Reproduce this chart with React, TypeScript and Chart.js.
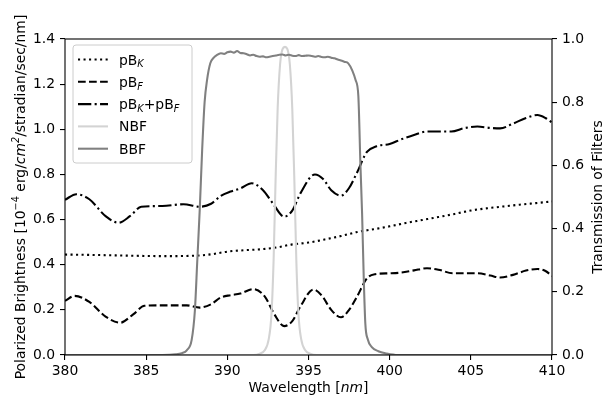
import React, { useEffect, useRef } from "react";
import { Chart, registerables } from "chart.js";
Chart.register(...registerables);

const W = 608;
const H = 404;
const FONT = '"DejaVu Sans", "Liberation Sans", sans-serif';
const FS = 13.9;

// ---------- data ----------
const xTickValues = [380, 385, 390, 395, 400, 405, 410];
const yLeftTickValues = [0, 0.2, 0.4, 0.6, 0.8, 1.0, 1.2, 1.4];
const yRightTickValues = [0, 0.2, 0.4, 0.6, 0.8, 1.0];

const pbkWave = [380, 382, 384, 386, 388, 389, 390, 391, 392, 393, 394, 395, 396, 397, 398, 399, 400, 401, 402, 403, 404, 405, 406, 407, 408, 409, 410];
const pbkVal = [0.445, 0.443, 0.44, 0.438, 0.44, 0.446, 0.458, 0.464, 0.468, 0.476, 0.49, 0.498, 0.512, 0.527, 0.545, 0.557, 0.57, 0.585, 0.598, 0.611, 0.625, 0.64, 0.65, 0.658, 0.666, 0.673, 0.68];

const pbfWave = [380, 380.6, 381.5, 382.5, 383.4, 384.2, 384.9, 386, 387.5, 388.3, 389, 389.6, 390.2, 390.8, 391.6, 392.3, 392.9, 393.5, 394, 394.5, 395.3, 395.8, 396.4, 397, 397.5, 398, 398.6, 399.1, 400, 400.7, 401.5, 402.3, 403, 403.9, 405.4, 406.2, 406.8, 407.6, 408.4, 409.1, 409.6, 410];
const pbfVal = [0.24, 0.262, 0.235, 0.17, 0.143, 0.18, 0.218, 0.22, 0.22, 0.21, 0.225, 0.255, 0.265, 0.272, 0.292, 0.26, 0.18, 0.128, 0.15, 0.215, 0.29, 0.265, 0.2, 0.167, 0.2, 0.26, 0.34, 0.358, 0.362, 0.365, 0.375, 0.384, 0.378, 0.362, 0.362, 0.352, 0.343, 0.355, 0.374, 0.381, 0.372, 0.35];

const sumWave = [380, 380.7, 381.5, 382.5, 383.3, 384, 384.7, 386, 387.3, 388.3, 389, 389.6, 390.2, 390.8, 391.5, 392.2, 392.8, 393.5, 394, 394.5, 395.4, 395.9, 396.4, 397, 397.5, 398, 398.6, 399.2, 400, 400.7, 401.5, 402.3, 403, 403.8, 404.6, 405.4, 406.2, 406.8, 407.6, 408.4, 409.1, 409.6, 410];
const sumVal = [0.688, 0.712, 0.69, 0.615, 0.586, 0.615, 0.657, 0.66, 0.668, 0.657, 0.67, 0.705, 0.724, 0.738, 0.761, 0.73, 0.672, 0.613, 0.64, 0.716, 0.8, 0.78, 0.73, 0.706, 0.74, 0.81, 0.9, 0.925, 0.935, 0.955, 0.975, 0.99, 0.99, 0.99, 1.005, 1.012, 1.006, 1.004, 1.025, 1.05, 1.063, 1.05, 1.03];

const nbfWave = [380, 391.6, 392.0, 392.3, 392.55, 392.72, 392.85, 392.97, 393.1, 393.25, 393.4, 393.55, 393.7, 393.85, 394.0, 394.13, 394.25, 394.38, 394.55, 394.8, 395.1, 395.5, 410];
const nbfVal = [0, 0, 0.004, 0.015, 0.05, 0.13, 0.3, 0.55, 0.78, 0.92, 0.968, 0.975, 0.968, 0.92, 0.78, 0.55, 0.3, 0.13, 0.05, 0.015, 0.004, 0, 0];

const bbfWave = [380, 386.0, 386.8, 387.2, 387.5, 387.8, 388.0, 388.15, 388.3, 388.45, 388.6, 388.75, 388.95, 389.15, 389.35, 389.6, 389.8, 390.0, 390.2, 390.4, 390.6, 390.8, 391.0, 391.2, 391.4, 391.6, 391.8, 392.0, 392.2, 392.4, 392.6, 392.8, 393.0, 393.2, 393.4, 393.6, 393.8, 394.0, 394.2, 394.4, 394.6, 394.8, 395.0, 395.2, 395.4, 395.6, 395.8, 396.0, 396.2, 396.4, 396.6, 396.8, 397.0, 397.2, 397.45, 397.7, 397.9, 398.07, 398.2, 398.3, 398.4, 398.5, 398.65, 398.9, 399.3, 399.8, 400.5, 410];
const bbfVal = [0, 0, 0.002, 0.006, 0.015, 0.047, 0.14, 0.3, 0.46, 0.65, 0.8, 0.87, 0.923, 0.94, 0.949, 0.955, 0.953, 0.958, 0.96, 0.957, 0.962, 0.956, 0.955, 0.952, 0.948, 0.95, 0.946, 0.944, 0.945, 0.942, 0.944, 0.946, 0.948, 0.95, 0.951, 0.948, 0.95, 0.947, 0.946, 0.949, 0.946, 0.947, 0.948, 0.946, 0.944, 0.946, 0.943, 0.942, 0.944, 0.941, 0.939, 0.935, 0.932, 0.928, 0.923, 0.9, 0.87, 0.82, 0.6, 0.45, 0.25, 0.1, 0.05, 0.025, 0.012, 0.005, 0, 0];

// ---------- styles ----------
const LW = 2.08;
const DOTTED = [2.08, 3.44];
const DASHED = [7.7, 3.33];
const DASHDOT = [13.3, 3.33, 2.08, 3.33];
const NBF_COLOR = "#d3d3d3";
const BBF_COLOR = "#808080";

const pts = (xs: number[], ys: number[]) => xs.map((x, i) => ({ x, y: ys[i] }));

type Seg = { t: string; s?: number; it?: boolean; dy?: number };
const fontOf = (g: Seg, base: number) => `${g.it ? "italic " : ""}${base * (g.s ?? 1)}px ${FONT}`;
function richWidth(ctx: CanvasRenderingContext2D, segs: Seg[], base: number) {
  let w = 0;
  for (const g of segs) {
    ctx.font = fontOf(g, base);
    w += ctx.measureText(g.t).width;
  }
  return w;
}
function drawRich(ctx: CanvasRenderingContext2D, segs: Seg[], x: number, y: number, base: number, center: boolean) {
  let cx = center ? x - richWidth(ctx, segs, base) / 2 : x;
  ctx.textAlign = "left";
  ctx.textBaseline = "alphabetic";
  for (const g of segs) {
    ctx.font = fontOf(g, base);
    ctx.fillText(g.t, cx, y + (g.dy ?? 0));
    cx += ctx.measureText(g.t).width;
  }
}
const sub = (t: string): Seg => ({ t, s: 0.7, it: true, dy: 2.8 });
const sup = (t: string, it = false): Seg => ({ t, s: 0.7, it, dy: -6 });

const legendItems = [
  { segs: [{ t: "pB" }, sub("K")], dash: DOTTED, color: "#000" },
  { segs: [{ t: "pB" }, sub("F")], dash: DASHED, color: "#000" },
  { segs: [{ t: "pB" }, sub("K"), { t: "+pB" }, sub("F")], dash: DASHDOT, color: "#000" },
  { segs: [{ t: "NBF" }], dash: [] as number[], color: NBF_COLOR },
  { segs: [{ t: "BBF" }], dash: [] as number[], color: BBF_COLOR },
];

const decor = {
  id: "decor",
  afterDatasetsDraw(chart: any) {
    const ctx: CanvasRenderingContext2D = chart.ctx;
    const a = chart.chartArea;
    ctx.save();
    // frame
    ctx.setLineDash([]);
    ctx.strokeStyle = "#000";
    ctx.lineWidth = 1.1;
    ctx.strokeRect(a.left, a.top, a.right - a.left, a.bottom - a.top);

    // legend box
    const bx = 73, by = 45, bw = 119, bh = 118, r = 3;
    ctx.beginPath();
    ctx.moveTo(bx + r, by);
    ctx.lineTo(bx + bw - r, by);
    ctx.arcTo(bx + bw, by, bx + bw, by + r, r);
    ctx.lineTo(bx + bw, by + bh - r);
    ctx.arcTo(bx + bw, by + bh, bx + bw - r, by + bh, r);
    ctx.lineTo(bx + r, by + bh);
    ctx.arcTo(bx, by + bh, bx, by + bh - r, r);
    ctx.lineTo(bx, by + r);
    ctx.arcTo(bx, by, bx + r, by, r);
    ctx.closePath();
    ctx.fillStyle = "rgba(255,255,255,0.8)";
    ctx.fill();
    ctx.strokeStyle = "#cccccc";
    ctx.lineWidth = 1;
    ctx.stroke();

    legendItems.forEach((it, i) => {
      const yy = 59.5 + i * 22.3;
      ctx.beginPath();
      ctx.setLineDash(it.dash);
      ctx.lineDashOffset = 0;
      ctx.strokeStyle = it.color;
      ctx.lineWidth = LW;
      ctx.lineCap = "butt";
      ctx.moveTo(78, yy);
      ctx.lineTo(108, yy);
      ctx.stroke();
      ctx.setLineDash([]);
      ctx.fillStyle = "#000";
      drawRich(ctx, it.segs, 119, yy + 5, FS, false);
    });

    // titles
    ctx.fillStyle = "#000";
    drawRich(ctx, [{ t: "Wavelength [" }, { t: "nm", it: true }, { t: "]" }], (a.left + a.right) / 2, 392, FS, true);

    const cy = (a.top + a.bottom) / 2;
    ctx.save();
    ctx.translate(24.5, cy);
    ctx.rotate(-Math.PI / 2);
    drawRich(
      ctx,
      [
        { t: "Polarized Brightness [10" },
        sup("\u22124"),
        { t: " erg/" },
        { t: "cm", it: true },
        sup("2", true),
        { t: "/stradian/sec/nm]" },
      ],
      0,
      0,
      FS,
      true
    );
    ctx.restore();

    ctx.save();
    ctx.translate(602, cy);
    ctx.rotate(-Math.PI / 2);
    drawRich(ctx, [{ t: "Transmission of Filters" }], 0, 0, FS, true);
    ctx.restore();

    ctx.restore();
  },
};

const tickFont = { family: FONT, size: FS };
const tickGrid = { display: true, drawOnChartArea: false, drawTicks: true, tickLength: 5, color: "#000", lineWidth: 1.1 };

export default function App() {
  const ref = useRef<HTMLCanvasElement | null>(null);
  useEffect(() => {
    if (!ref.current) return;
    const lineBase = { pointRadius: 0, borderWidth: LW, fill: false, cubicInterpolationMode: "monotone" as const, borderCapStyle: "butt" as const, borderJoinStyle: "round" as const };
    const chart = new Chart(ref.current, {
      type: "line",
      data: {
        datasets: [
          { ...lineBase, label: "pBK", data: pts(pbkWave, pbkVal), borderColor: "#000", borderDash: DOTTED, yAxisID: "y", order: 2 },
          { ...lineBase, label: "pBF", data: pts(pbfWave, pbfVal), borderColor: "#000", borderDash: DASHED, yAxisID: "y", order: 2 },
          { ...lineBase, label: "pBK+pBF", data: pts(sumWave, sumVal), borderColor: "#000", borderDash: DASHDOT, yAxisID: "y", order: 2 },
          { ...lineBase, label: "NBF", data: pts(nbfWave, nbfVal), borderColor: NBF_COLOR, yAxisID: "y2", order: 1 },
          { ...lineBase, label: "BBF", data: pts(bbfWave, bbfVal), borderColor: BBF_COLOR, yAxisID: "y2", order: 0 },
        ],
      },
      options: {
        animation: false,
        responsive: false,
        devicePixelRatio: 1,
        layout: { padding: { top: 39, left: 0, right: 0, bottom: 0 } },
        plugins: { legend: { display: false }, tooltip: { enabled: false } },
        scales: {
          x: {
            type: "linear",
            min: 380,
            max: 410,
            afterBuildTicks: (s: any) => {
              s.ticks = xTickValues.map((v) => ({ value: v }));
            },
            afterFit: (s: any) => {
              s.height = H - 355;
            },
            ticks: { font: tickFont, color: "#000", padding: 3, maxRotation: 0, callback: (v: any) => String(v) },
            grid: tickGrid,
            border: { display: false },
          },
          y: {
            type: "linear",
            position: "left",
            min: 0,
            max: 1.4,
            afterBuildTicks: (s: any) => {
              s.ticks = yLeftTickValues.map((v) => ({ value: v }));
            },
            afterFit: (s: any) => {
              s.width = 65;
            },
            ticks: { font: tickFont, color: "#000", padding: 5, callback: (v: any) => Number(v).toFixed(1) },
            grid: tickGrid,
            border: { display: false },
          },
          y2: {
            type: "linear",
            position: "right",
            min: 0,
            max: 1,
            afterBuildTicks: (s: any) => {
              s.ticks = yRightTickValues.map((v) => ({ value: v }));
            },
            afterFit: (s: any) => {
              s.width = W - 552;
            },
            ticks: { font: tickFont, color: "#000", padding: 5, callback: (v: any) => Number(v).toFixed(1) },
            grid: tickGrid,
            border: { display: false },
          },
        },
      },
      plugins: [decor],
    });
    return () => chart.destroy();
  }, []);
  return (
    <div style={{ position: "fixed", left: 0, top: 0, width: W, height: H, background: "#fff" }}>
      <canvas ref={ref} width={W} height={H} style={{ display: "block", width: W, height: H }} />
    </div>
  );
}
